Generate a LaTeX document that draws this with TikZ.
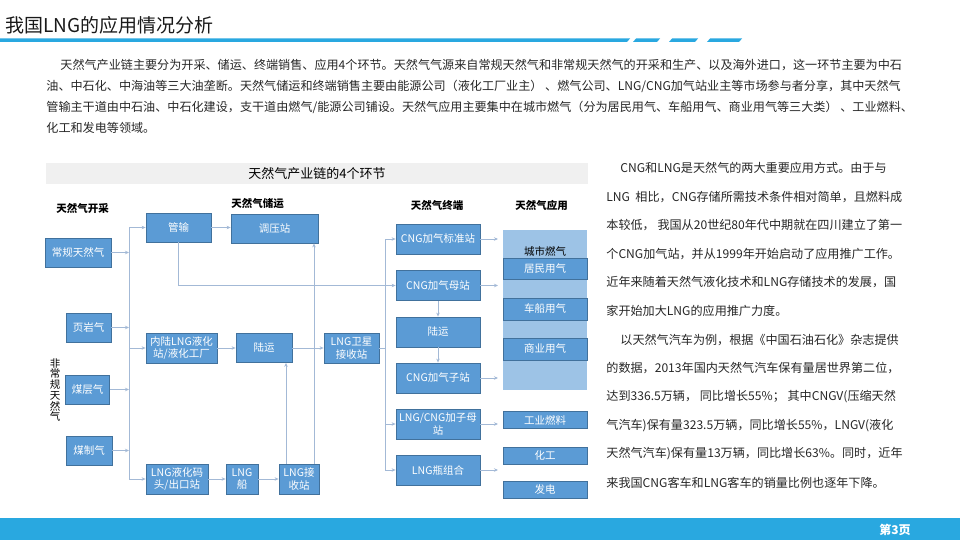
\documentclass[tikz,border=0pt]{standalone}
\usepackage{fontspec}
\setmainfont{Noto Sans CJK SC}
\usetikzlibrary{arrows.meta}
\definecolor{cblue}{HTML}{5B9BD5}
\definecolor{cedge}{HTML}{41719C}
\definecolor{clight}{HTML}{9DC3E6}
\definecolor{cline}{HTML}{A3B9D6}
\definecolor{csky}{HTML}{29A8E0}
\definecolor{cgrey}{HTML}{F0F0F0}
\definecolor{ctext}{HTML}{262626}
\tikzset{
  every picture/.style={line width=0.8pt},
  box/.style={draw=cedge, fill=cblue, text=white, font=\fontsize{10.5}{12.5}\selectfont, align=center, inner sep=1pt},
  wh/.style 2 args={minimum width=#1pt, minimum height=#2pt},
  arrow/.style={-{Stealth[length=4pt, width=3.5pt]}, draw=cline},
  link/.style={draw=cline},
  head/.style={font=\bfseries\fontsize{10.5}{12}\selectfont, text=black},
  para/.style={font=\fontsize{12.1}{14}\selectfont, text=ctext, anchor=west, inner sep=0pt},
  title/.style={font=\fontsize{19}{22}\selectfont, text=black!90},
}

\begin{document}
\begin{tikzpicture}[x=1pt, y=-1pt]
  \useasboundingbox (0,0) rectangle (960,540);
  % page header
  \node[title, anchor=west, inner sep=0pt] (ttl) at (5,25) {我国LNG的应用情况分析};
  \fill[csky] (0,38.5) -- (630,38.5) -- (627,42) -- (0,42) -- cycle;
  \foreach \a/\b in {636/660, 672/698, 710/742}
    \fill[csky] (\a,38.5) -- (\b,38.5) -- (\b-3,42) -- (\a-3,42) -- cycle;
  % intro text
  \node[para] (p1) at (60,65) {天然气产业链主要分为开采、储运、终端销售、应用4个环节。天然气气源来自常规天然气和非常规天然气的开采和生产、以及海外进口，这一环节主要为中石};
  \node[para] (p2) at (46,86) {油、中石化、中海油等三大油垄断。天然气储运和终端销售主要由能源公司（液化工厂业主） 、燃气公司、LNG/CNG加气站业主等市场参与者分享，其中天然气};
  \node[para] (p3) at (46,107) {管输主干道由中石油、中石化建设，支干道由燃气/能源公司铺设。天然气应用主要集中在城市燃气（分为居民用气、车船用气、商业用气等三大类） 、工业燃料、};
  \node[para] (p4) at (46,128) {化工和发电等领域。};

  % chart title and columns
  \node[fill=cgrey, wh={542}{21}, font=\fontsize{13}{15}\selectfont] (chart) at (317,173.5) {天然气产业链的4个环节};
  \node[head] (h1) at (82.5,208) {天然气开采};
  \node[head] (h2) at (257.5,204) {天然气储运};
  \node[head] (h3) at (437,205) {天然气终端};
  \node[head] (h4) at (541.5,205) {天然气应用};
  \node[font=\fontsize{10.5}{10.7}\selectfont, align=center, text=black, inner sep=0pt] (fcg) at (55,390) {非\\常\\规\\天\\然\\气};

  % extraction
  \node[box, wh={66}{29}] (src1) at (78,252.5) {常规天然气};
  \node[box, wh={45}{29}] (src2) at (88.5,327.5) {页岩气};
  \node[box, wh={44}{29}] (src3) at (87.5,389.5) {煤层气};
  \node[box, wh={46}{29}] (src4) at (89,450.5) {煤制气};

  % storage and transport
  \node[box, wh={65}{29}] (gs) at (178.5,227.5) {管输};
  \node[box, wh={87}{29}] (tyz) at (274.5,228.5) {调压站};
  \node[box, wh={71}{30}] (yhz) at (181.5,348) {内陆LNG液化\\站/液化工厂};
  \node[box, wh={56}{29}] (ly1) at (264,348) {陆运};
  \node[box, wh={55}{30}] (wx) at (351.5,348) {LNG卫星\\接收站};
  \node[box, wh={62}{30}] (mt) at (177,479) {LNG液化码\\头/出口站};
  \node[box, wh={32}{30}] (ship) at (242,479) {LNG\\船};
  \node[box, wh={40}{30}] (jsz) at (299,479) {LNG接\\收站};

  % terminals
  \foreach \n/\y/\t in {t1/239/CNG加气标准站, t2/285.5/CNG加气母站, t3/332/陆运, t4/378/CNG加气子站, t5/424/{LNG/CNG加子母\\站}, t6/470/LNG瓶组合}
    \node[box, wh={84}{30}] (\n) at (438,\y) {\t};

  % applications
  \node[fill=clight, wh={84}{160}] (city) at (545,310) {};
  \node[font=\fontsize{10.5}{12}\selectfont, text=black] (cityl) at (545,251) {城市燃气};
  \foreach \n/\y/\h/\t in {a1/268.5/21/居民用气, a2/309/22/车船用气, a3/349/22/商业用气, a4/420/17/工业燃料, a5/455.5/17/化工, a6/489.5/17/发电}
    \node[box, wh={84}{\h}] (\n) at (545,\y) {\t};

  % connectors
  \coordinate (b) at (129,0);
  \draw[link] (gs.west -| b) -- (mt.west -| b);
  \foreach \n in {src1,src2,src3,src4} \draw[arrow] (\n.east) -- (\n.east -| b);
  \foreach \n in {gs,yhz,mt} \draw[arrow] (\n.west -| b) -- (\n.west);
  \draw[arrow] (gs.east) -- (gs.east -| tyz.west);
  \draw[arrow] (gs.south) |- (t2.west);
  \draw[arrow] (yhz.east) -- (ly1.west);
  \draw[arrow] (ly1.east) -- (wx.west);
  \draw[arrow] (mt.east) -- (ship.west);
  \draw[arrow] (ship.east) -- (jsz.west);
  \coordinate (u1) at (286,0);
  \coordinate (u2) at (314,0);
  \draw[arrow] (jsz.north -| u1) -- (ly1.south -| u1);
  \draw[arrow] (jsz.north -| u2) -- (tyz.south -| u2);
  \coordinate (tb) at (385,0);
  \draw[link] (t1.west -| tb) -- (t6.west -| tb);
  \draw[link] (wx.east) -- (wx.east -| tb);
  \foreach \n in {t1,t5,t6} \draw[arrow] (\n.west -| tb) -- (\n.west);
  \draw[arrow] (t2.south) -- (t3.north);
  \draw[arrow] (t3.south) -- (t4.north);
  \coordinate (ae) at (498,0);
  \foreach \n in {t1,t2,t4,t5,t6} \draw[arrow] (\n.east) -- (\n.east -| ae);

  % right column text
  \foreach \i/\t in {0/{\hspace*{14pt}CNG和LNG是天然气的两大重要应用方式。由于与},
      1/{LNG \ 相比，CNG存储所需技术条件相对简单，且燃料成},
      2/{本较低， 我国从20世纪80年代中期就在四川建立了第一},
      3/{个CNG加气站，并从1999年开始启动了应用推广工作。},
      4/{近年来随着天然气液化技术和LNG存储技术的发展，国},
      5/{家开始加大LNG的应用推广力度。},
      6/{\hspace*{14pt}以天然气汽车为例，根据《中国石油石化》杂志提供},
      7/{的数据，2013年国内天然气汽车保有量居世界第二位，},
      8/{达到336.5万辆， 同比增长55\%； 其中CNGV(压缩天然},
      9/{气汽车)保有量323.5万辆，同比增长55\%，LNGV(液化},
      10/{天然气汽车)保有量13万辆，同比增长63\%。同时，近年},
      11/{来我国CNG客车和LNG客车的销量比例也逐年下降。}}
    \node[para] (r\i) at (606,168+28.6*\i) {\t};

  % footer
  \fill[csky] (0,518) rectangle (960,540);
  \node[font=\bfseries\fontsize{12}{14}\selectfont, text=white] (pg) at (895,529.5) {第3页};
\end{tikzpicture}
\end{document}
